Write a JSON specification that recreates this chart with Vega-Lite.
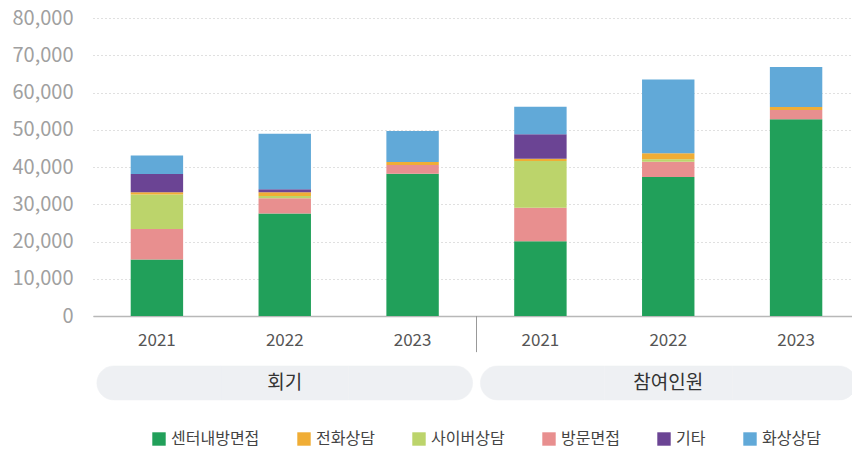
{
  "$schema": "https://vega.github.io/schema/vega-lite/v6.json",
  "width": 759,
  "height": 298,
  "autosize": {"type": "none"},
  "padding": {"left": 93, "top": 18, "right": 0, "bottom": 138},
  "config": {"font": "Noto Sans CJK KR", "view": {"stroke": null}},
  "data": {"values": [
    {"cat": "회기 2021", "group": "회기", "year": "2021", "type": "센터내방면접", "value": 15200},
    {"cat": "회기 2021", "group": "회기", "year": "2021", "type": "방문면접", "value": 8150},
    {"cat": "회기 2021", "group": "회기", "year": "2021", "type": "사이버상담", "value": 9300},
    {"cat": "회기 2021", "group": "회기", "year": "2021", "type": "전화상담", "value": 600},
    {"cat": "회기 2021", "group": "회기", "year": "2021", "type": "기타", "value": 4900},
    {"cat": "회기 2021", "group": "회기", "year": "2021", "type": "화상상담", "value": 4950},
    {"cat": "회기 2022", "group": "회기", "year": "2022", "type": "센터내방면접", "value": 27500},
    {"cat": "회기 2022", "group": "회기", "year": "2022", "type": "방문면접", "value": 4100},
    {"cat": "회기 2022", "group": "회기", "year": "2022", "type": "사이버상담", "value": 600},
    {"cat": "회기 2022", "group": "회기", "year": "2022", "type": "전화상담", "value": 1000},
    {"cat": "회기 2022", "group": "회기", "year": "2022", "type": "기타", "value": 800},
    {"cat": "회기 2022", "group": "회기", "year": "2022", "type": "화상상담", "value": 14900},
    {"cat": "회기 2023", "group": "회기", "year": "2023", "type": "센터내방면접", "value": 38200},
    {"cat": "회기 2023", "group": "회기", "year": "2023", "type": "방문면접", "value": 2350},
    {"cat": "회기 2023", "group": "회기", "year": "2023", "type": "사이버상담", "value": 0},
    {"cat": "회기 2023", "group": "회기", "year": "2023", "type": "전화상담", "value": 800},
    {"cat": "회기 2023", "group": "회기", "year": "2023", "type": "기타", "value": 0},
    {"cat": "회기 2023", "group": "회기", "year": "2023", "type": "화상상담", "value": 8300},
    {"cat": "참여인원 2021", "group": "참여인원", "year": "2021", "type": "센터내방면접", "value": 20050},
    {"cat": "참여인원 2021", "group": "참여인원", "year": "2021", "type": "방문면접", "value": 9030},
    {"cat": "참여인원 2021", "group": "참여인원", "year": "2021", "type": "사이버상담", "value": 12530},
    {"cat": "참여인원 2021", "group": "참여인원", "year": "2021", "type": "전화상담", "value": 620},
    {"cat": "참여인원 2021", "group": "참여인원", "year": "2021", "type": "기타", "value": 6550},
    {"cat": "참여인원 2021", "group": "참여인원", "year": "2021", "type": "화상상담", "value": 7410},
    {"cat": "참여인원 2022", "group": "참여인원", "year": "2022", "type": "센터내방면접", "value": 37300},
    {"cat": "참여인원 2022", "group": "참여인원", "year": "2022", "type": "방문면접", "value": 4100},
    {"cat": "참여인원 2022", "group": "참여인원", "year": "2022", "type": "사이버상담", "value": 700},
    {"cat": "참여인원 2022", "group": "참여인원", "year": "2022", "type": "전화상담", "value": 1600},
    {"cat": "참여인원 2022", "group": "참여인원", "year": "2022", "type": "기타", "value": 0},
    {"cat": "참여인원 2022", "group": "참여인원", "year": "2022", "type": "화상상담", "value": 19800},
    {"cat": "참여인원 2023", "group": "참여인원", "year": "2023", "type": "센터내방면접", "value": 52800},
    {"cat": "참여인원 2023", "group": "참여인원", "year": "2023", "type": "방문면접", "value": 2500},
    {"cat": "참여인원 2023", "group": "참여인원", "year": "2023", "type": "사이버상담", "value": 0},
    {"cat": "참여인원 2023", "group": "참여인원", "year": "2023", "type": "전화상담", "value": 800},
    {"cat": "참여인원 2023", "group": "참여인원", "year": "2023", "type": "기타", "value": 0},
    {"cat": "참여인원 2023", "group": "참여인원", "year": "2023", "type": "화상상담", "value": 10750}
  ]},
  "transform": [
    {"calculate": "indexof(['센터내방면접','방문면접','사이버상담','전화상담','기타','화상상담'], datum.type)", "as": "stackOrder"}
  ],
  "encoding": {
    "x": {
      "field": "cat", "type": "nominal",
      "sort": ["회기 2021", "회기 2022", "회기 2023", "참여인원 2021", "참여인원 2022", "참여인원 2023"],
      "scale": {"paddingInner": 0, "paddingOuter": 0, "range": [0, 767]},
      "axis": {
        "title": null, "labelAngle": 0, "ticks": false,
        "labelExpr": "split(datum.label, ' ')[1]",
        "labelFontSize": 17, "labelColor": "#555555", "labelPadding": 16,
        "domainColor": "#b8b8b8", "domainWidth": 1.5, "grid": false
      }
    }
  },
  "layer": [
    {
      "mark": {"type": "bar", "width": {"band": 0.41}},
      "encoding": {
        "y": {
          "field": "value", "type": "quantitative", "stack": "zero",
          "scale": {"domain": [0, 80000], "nice": false},
          "axis": {"title": null, "domain": false, "ticks": false, "grid": true, "labelOverlap": false, "values": [0, 10000, 20000, 30000, 40000, 50000, 60000, 70000, 80000], "format": ",d", "labelFontSize": 20, "labelColor": "#a0a0a0", "labelPadding": 20, "gridColor": "#c0c0c0", "gridDash": [1, 3], "gridWidth": 1}
        },
        "color": {
          "field": "type", "type": "nominal",
          "scale": {
            "domain": ["센터내방면접", "전화상담", "사이버상담", "방문면접", "기타", "화상상담"],
            "range": ["#21a05a", "#f0ad35", "#bcd46b", "#e88f8f", "#6b4494", "#61a9d8"]
          },
          "legend": {
            "orient": "none", "legendX": 58, "legendY": 413, "direction": "horizontal", "title": null,
            "symbolType": "square", "symbolSize": 180, "symbolStrokeWidth": 0,
            "labelFontSize": 16, "labelColor": "#444444", "columnPadding": 36
          }
        },
        "order": {"field": "stackOrder", "type": "quantitative"}
      }
    },
    {
      "transform": [{"filter": "datum.type == '센터내방면접' && datum.year == '2021'"}],
      "mark": {"type": "bar", "width": {"band": 0.97}, "xOffset": 1.9, "color": "#eef0f3", "stroke": "#eef0f3", "strokeWidth": 0.5, "cornerRadiusTopLeft": 17, "cornerRadiusBottomLeft": 17},
      "encoding": {
        "y": {"datum": -13400, "type": "quantitative", "axis": {"title": null, "domain": false, "ticks": false, "grid": true, "labelOverlap": false, "values": [0, 10000, 20000, 30000, 40000, 50000, 60000, 70000, 80000], "format": ",d", "labelFontSize": 20, "labelColor": "#a0a0a0", "labelPadding": 20, "gridColor": "#c0c0c0", "gridDash": [1, 3], "gridWidth": 1}},
        "y2": {"datum": -22550}
      }
    },
    {
      "transform": [{"filter": "datum.type == '센터내방면접' && datum.year == '2022'"}],
      "mark": {"type": "bar", "width": {"band": 1}, "color": "#eef0f3", "stroke": "#eef0f3", "strokeWidth": 0.5},
      "encoding": {
        "y": {"datum": -13400, "type": "quantitative", "axis": {"title": null, "domain": false, "ticks": false, "grid": true, "labelOverlap": false, "values": [0, 10000, 20000, 30000, 40000, 50000, 60000, 70000, 80000], "format": ",d", "labelFontSize": 20, "labelColor": "#a0a0a0", "labelPadding": 20, "gridColor": "#c0c0c0", "gridDash": [1, 3], "gridWidth": 1}},
        "y2": {"datum": -22550}
      }
    },
    {
      "transform": [{"filter": "datum.type == '센터내방면접' && datum.year == '2023'"}],
      "mark": {"type": "bar", "width": {"band": 0.97}, "xOffset": -1.9, "color": "#eef0f3", "stroke": "#eef0f3", "strokeWidth": 0.5, "cornerRadiusTopRight": 17, "cornerRadiusBottomRight": 17},
      "encoding": {
        "y": {"datum": -13400, "type": "quantitative", "axis": {"title": null, "domain": false, "ticks": false, "grid": true, "labelOverlap": false, "values": [0, 10000, 20000, 30000, 40000, 50000, 60000, 70000, 80000], "format": ",d", "labelFontSize": 20, "labelColor": "#a0a0a0", "labelPadding": 20, "gridColor": "#c0c0c0", "gridDash": [1, 3], "gridWidth": 1}},
        "y2": {"datum": -22550}
      }
    },
    {
      "transform": [{"filter": "datum.type == '센터내방면접' && datum.year == '2022'"}],
      "mark": {"type": "text", "fontSize": 19, "color": "#333333", "baseline": "middle", "align": "center"},
      "encoding": {
        "y": {"datum": -18000, "type": "quantitative", "axis": {"title": null, "domain": false, "ticks": false, "grid": true, "labelOverlap": false, "values": [0, 10000, 20000, 30000, 40000, 50000, 60000, 70000, 80000], "format": ",d", "labelFontSize": 20, "labelColor": "#a0a0a0", "labelPadding": 20, "gridColor": "#c0c0c0", "gridDash": [1, 3], "gridWidth": 1}},
        "text": {"field": "group"}
      }
    },
    {
      "transform": [{"filter": "datum.type == '센터내방면접' && datum.cat == '회기 2023'"}],
      "mark": {"type": "rule", "color": "#999999", "strokeWidth": 1},
      "encoding": {
        "x": {"field": "cat", "type": "nominal", "bandPosition": 1},
        "y": {"datum": 0, "type": "quantitative", "axis": {"title": null, "domain": false, "ticks": false, "grid": true, "labelOverlap": false, "values": [0, 10000, 20000, 30000, 40000, 50000, 60000, 70000, 80000], "format": ",d", "labelFontSize": 20, "labelColor": "#a0a0a0", "labelPadding": 20, "gridColor": "#c0c0c0", "gridDash": [1, 3], "gridWidth": 1}},
        "y2": {"datum": -9700}
      }
    }
  ]
}
